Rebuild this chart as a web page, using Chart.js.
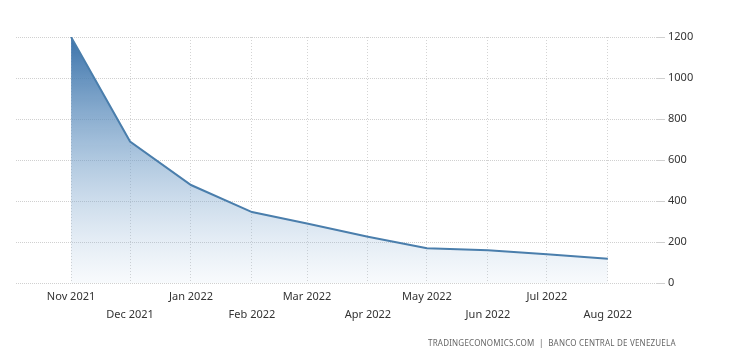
<!DOCTYPE html>
<html>
<head>
<meta charset="utf-8">
<script src="https://cdn.jsdelivr.net/npm/chart.js@4.4.0/dist/chart.umd.min.js"></script>
<style>
  html, body { margin: 0; padding: 0; background: #fff; }
  #wrap { position: relative; width: 737px; height: 354px; }
  #footer {
    position: absolute; left: 428px; top: 337px;
    font: 8px "Noto Sans", sans-serif; color: #666; letter-spacing: 0.2px;
    white-space: nowrap;
  }
</style>
</head>
<body>
<div id="wrap">
  <canvas id="chart" width="737" height="354"></canvas>
  <div id="footer">TRADINGECONOMICS.COM &nbsp;|&nbsp; BANCO CENTRAL DE VENEZUELA</div>
</div>
<script>
// data
const months = ['2021-11-01', '2021-12-01', '2022-01-01', '2022-02-01', '2022-03-01',
  '2022-04-01', '2022-05-01', '2022-06-01', '2022-07-01', '2022-08-01'];
const monthLabels = ['Nov 2021', 'Dec 2021', 'Jan 2022', 'Feb 2022', 'Mar 2022',
  'Apr 2022', 'May 2022', 'Jun 2022', 'Jul 2022', 'Aug 2022'];
const values = [1200, 690, 478, 346, 290, 226, 170, 160, 140, 118];
const yTicks = [0, 200, 400, 600, 800, 1000, 1200];

// days since first month, so the x axis is spaced like a time axis
const base = Date.parse(months[0]);
const dayNums = months.map(m => Math.round((Date.parse(m) - base) / 86400000));

const ctx = document.getElementById('chart').getContext('2d');

new Chart(ctx, {
  type: 'line',
  data: {
    datasets: [{
      data: dayNums.map((d, i) => ({ x: d, y: values[i] })),
      borderColor: '#4a7eac',
      borderWidth: 2,
      pointRadius: 0,
      tension: 0,
      fill: 'origin',
      backgroundColor: (c) => {
        const area = c.chart.chartArea;
        if (!area) return 'rgba(62,118,173,0.5)';
        const g = c.chart.ctx.createLinearGradient(0, area.top, 0, area.bottom);
        g.addColorStop(0, 'rgba(58,114,170,1)');
        g.addColorStop(0.5, 'rgba(110,155,198,0.55)');
        g.addColorStop(1, 'rgba(160,190,220,0.08)');
        return g;
      }
    }]
  },
  options: {
    responsive: false,
    animation: false,
    layout: { padding: { left: 16, top: 37, right: 0, bottom: 0 } },
    plugins: { legend: { display: false }, tooltip: { enabled: false } },
    scales: {
      x: {
        type: 'linear',
        min: -28,
        max: dayNums[dayNums.length - 1] + 25,
        afterBuildTicks: (axis) => { axis.ticks = dayNums.map(v => ({ value: v })); },
        afterFit: (axis) => { axis.height = 71; },
        border: { display: false, dash: [1, 2] },
        grid: { color: '#d4d4d4', drawTicks: false, lineWidth: 1 },
        ticks: {
          padding: 5,
          autoSkip: false,
          maxRotation: 0,
          color: '#333',
          font: { family: 'Noto Sans', size: 11, lineHeight: 1.6 },
          callback: (v, i) => i % 2 ? ['', monthLabels[i]] : monthLabels[i]
        }
      },
      y: {
        position: 'right',
        min: 0,
        max: 1200,
        afterBuildTicks: (axis) => { axis.ticks = yTicks.map(v => ({ value: v })); },
        afterFit: (axis) => { axis.width = 80; },
        border: { display: false, dash: [1, 1] },
        grid: { color: '#d0d0d0', tickLength: 8, lineWidth: 1 },
        ticks: {
          padding: 3,
          color: '#333',
          font: { family: 'Noto Sans', size: 11 },
          callback: (v) => String(v)
        }
      }
    }
  }
});
</script>
</body>
</html>
